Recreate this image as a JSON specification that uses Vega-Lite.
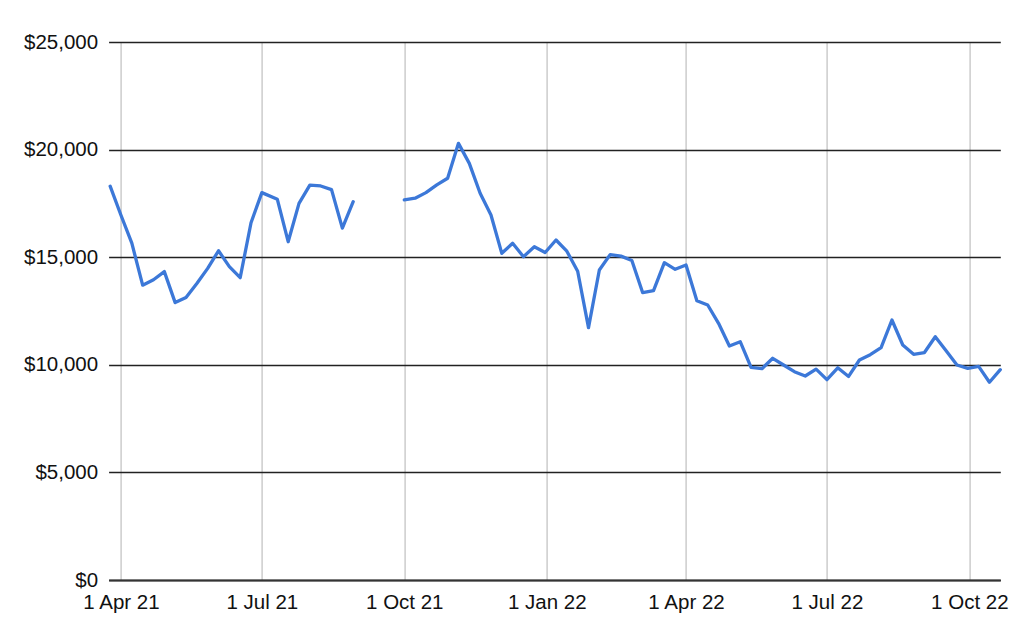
{
  "$schema": "https://vega.github.io/schema/vega-lite/v6.json",
  "width": 891.7,
  "height": 538,
  "autosize": {"type": "none"},
  "padding": {"left": 108.6, "top": 42, "right": 23.7, "bottom": 54},
  "background": "white",
  "config": {"view": {"stroke": null}, "font": "Liberation Sans"},
  "data": {"values": [
    {"date": "2021-03-25", "value": 18300, "segment": "a"},
    {"date": "2021-04-01", "value": 16950, "segment": "a"},
    {"date": "2021-04-08", "value": 15650, "segment": "a"},
    {"date": "2021-04-15", "value": 13700, "segment": "a"},
    {"date": "2021-04-22", "value": 13950, "segment": "a"},
    {"date": "2021-04-29", "value": 14330, "segment": "a"},
    {"date": "2021-05-06", "value": 12890, "segment": "a"},
    {"date": "2021-05-13", "value": 13130, "segment": "a"},
    {"date": "2021-05-20", "value": 13780, "segment": "a"},
    {"date": "2021-05-27", "value": 14480, "segment": "a"},
    {"date": "2021-06-03", "value": 15300, "segment": "a"},
    {"date": "2021-06-10", "value": 14560, "segment": "a"},
    {"date": "2021-06-17", "value": 14050, "segment": "a"},
    {"date": "2021-06-24", "value": 16600, "segment": "a"},
    {"date": "2021-07-01", "value": 18000, "segment": "a"},
    {"date": "2021-07-11", "value": 17690, "segment": "a"},
    {"date": "2021-07-18", "value": 15720, "segment": "a"},
    {"date": "2021-07-25", "value": 17500, "segment": "a"},
    {"date": "2021-08-01", "value": 18350, "segment": "a"},
    {"date": "2021-08-08", "value": 18310, "segment": "a"},
    {"date": "2021-08-15", "value": 18140, "segment": "a"},
    {"date": "2021-08-22", "value": 16350, "segment": "a"},
    {"date": "2021-08-29", "value": 17580, "segment": "a"},
    {"date": "2021-10-01", "value": 17660, "segment": "b"},
    {"date": "2021-10-08", "value": 17740, "segment": "b"},
    {"date": "2021-10-15", "value": 18000, "segment": "b"},
    {"date": "2021-10-22", "value": 18360, "segment": "b"},
    {"date": "2021-10-29", "value": 18670, "segment": "b"},
    {"date": "2021-11-05", "value": 20290, "segment": "b"},
    {"date": "2021-11-12", "value": 19360, "segment": "b"},
    {"date": "2021-11-19", "value": 17970, "segment": "b"},
    {"date": "2021-11-26", "value": 16960, "segment": "b"},
    {"date": "2021-12-03", "value": 15180, "segment": "b"},
    {"date": "2021-12-10", "value": 15645, "segment": "b"},
    {"date": "2021-12-17", "value": 15024, "segment": "b"},
    {"date": "2021-12-24", "value": 15489, "segment": "b"},
    {"date": "2021-12-31", "value": 15220, "segment": "b"},
    {"date": "2022-01-07", "value": 15799, "segment": "b"},
    {"date": "2022-01-14", "value": 15280, "segment": "b"},
    {"date": "2022-01-21", "value": 14350, "segment": "b"},
    {"date": "2022-01-28", "value": 11730, "segment": "b"},
    {"date": "2022-02-04", "value": 14405, "segment": "b"},
    {"date": "2022-02-11", "value": 15120, "segment": "b"},
    {"date": "2022-02-18", "value": 15050, "segment": "b"},
    {"date": "2022-02-25", "value": 14850, "segment": "b"},
    {"date": "2022-03-04", "value": 13352, "segment": "b"},
    {"date": "2022-03-11", "value": 13445, "segment": "b"},
    {"date": "2022-03-18", "value": 14745, "segment": "b"},
    {"date": "2022-03-25", "value": 14437, "segment": "b"},
    {"date": "2022-04-01", "value": 14637, "segment": "b"},
    {"date": "2022-04-08", "value": 12979, "segment": "b"},
    {"date": "2022-04-15", "value": 12779, "segment": "b"},
    {"date": "2022-04-22", "value": 11928, "segment": "b"},
    {"date": "2022-04-29", "value": 10874, "segment": "b"},
    {"date": "2022-05-06", "value": 11073, "segment": "b"},
    {"date": "2022-05-13", "value": 9884, "segment": "b"},
    {"date": "2022-05-20", "value": 9819, "segment": "b"},
    {"date": "2022-05-27", "value": 10302, "segment": "b"},
    {"date": "2022-06-03", "value": 9991, "segment": "b"},
    {"date": "2022-06-10", "value": 9680, "segment": "b"},
    {"date": "2022-06-17", "value": 9479, "segment": "b"},
    {"date": "2022-06-24", "value": 9800, "segment": "b"},
    {"date": "2022-07-01", "value": 9310, "segment": "b"},
    {"date": "2022-07-08", "value": 9860, "segment": "b"},
    {"date": "2022-07-15", "value": 9460, "segment": "b"},
    {"date": "2022-07-22", "value": 10223, "segment": "b"},
    {"date": "2022-07-29", "value": 10470, "segment": "b"},
    {"date": "2022-08-05", "value": 10800, "segment": "b"},
    {"date": "2022-08-12", "value": 12082, "segment": "b"},
    {"date": "2022-08-19", "value": 10920, "segment": "b"},
    {"date": "2022-08-26", "value": 10490, "segment": "b"},
    {"date": "2022-09-02", "value": 10570, "segment": "b"},
    {"date": "2022-09-09", "value": 11306, "segment": "b"},
    {"date": "2022-09-16", "value": 10650, "segment": "b"},
    {"date": "2022-09-23", "value": 9991, "segment": "b"},
    {"date": "2022-09-30", "value": 9837, "segment": "b"},
    {"date": "2022-10-07", "value": 9930, "segment": "b"},
    {"date": "2022-10-14", "value": 9190, "segment": "b"},
    {"date": "2022-10-21", "value": 9775, "segment": "b"}
  ]},
  "mark": {"type": "line", "color": "#3c78d8", "strokeWidth": 3.3, "strokeJoin": "round", "strokeCap": "round"},
  "encoding": {
    "x": {
      "field": "date",
      "type": "temporal",
      "scale": {
        "type": "utc",
        "domain": [
          {"year": 2021, "month": 3, "date": 24, "utc": true},
          {"year": 2022, "month": 10, "date": 21, "utc": true}
        ]
      },
      "axis": {
        "title": null,
        "values": [
          {"year": 2021, "month": 4, "date": 1, "utc": true},
          {"year": 2021, "month": 7, "date": 1, "utc": true},
          {"year": 2021, "month": 10, "date": 1, "utc": true},
          {"year": 2022, "month": 1, "date": 1, "utc": true},
          {"year": 2022, "month": 4, "date": 1, "utc": true},
          {"year": 2022, "month": 7, "date": 1, "utc": true},
          {"year": 2022, "month": 10, "date": 1, "utc": true}
        ],
        "format": "%-d %b %y",
        "labelFontSize": 20.5,
        "labelColor": "#111111",
        "labelPadding": 12,
        "labelFlush": false,
        "labelOverlap": false,
        "ticks": false,
        "grid": true,
        "gridColor": "#cccccc",
        "gridWidth": 1.5,
        "domain": true,
        "domainColor": "#333333",
        "domainWidth": 2
      }
    },
    "y": {
      "field": "value",
      "type": "quantitative",
      "scale": {"domain": [0, 25000], "nice": false},
      "axis": {
        "title": null,
        "values": [0, 5000, 10000, 15000, 20000, 25000],
        "format": "$,.0f",
        "labelFontSize": 20.5,
        "labelColor": "#111111",
        "labelPadding": 11,
        "ticks": false,
        "grid": true,
        "gridColor": "#222222",
        "gridWidth": 1.4,
        "domain": false
      }
    },
    "detail": {"field": "segment"}
  }
}
